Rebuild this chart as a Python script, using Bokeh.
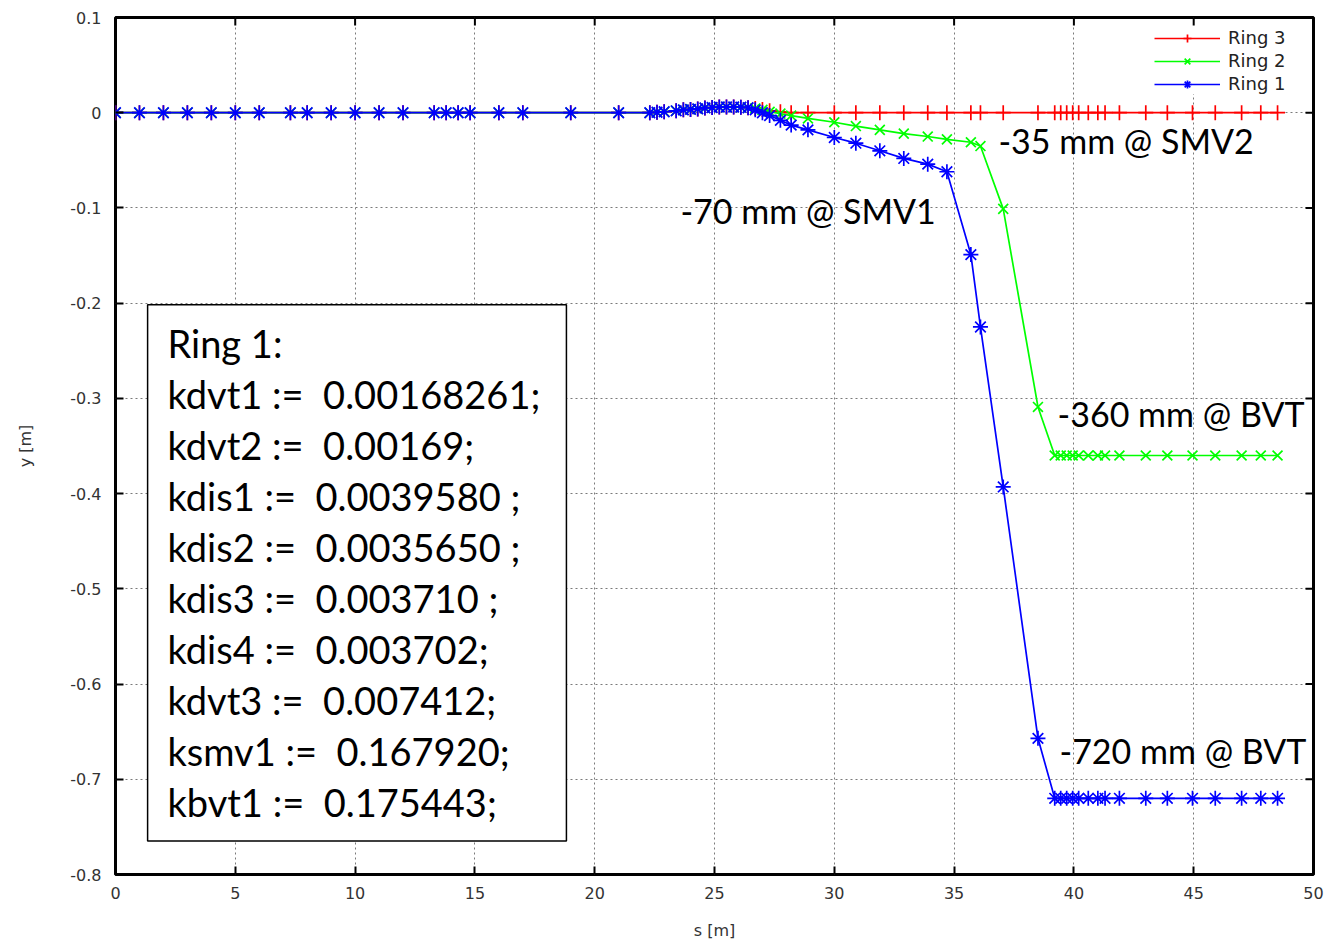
import math
from bokeh.plotting import figure
from bokeh.models import Range1d, FixedTicker, Label, BoxAnnotation, Legend, LegendItem
from bokeh.embed import file_html
from bokeh.resources import INLINE

# ---------------- data ----------------
s = [0, 1, 2, 3, 4, 5, 6, 7.3, 8, 9, 10, 11, 12, 13.3, 13.8, 14.3, 14.8, 16, 17, 19, 21,
     22.3, 22.6, 22.9, 23.4, 23.7, 24.0, 24.3, 24.6, 24.9, 25.2, 25.5, 25.8, 26.1, 26.4, 26.7,
     27.0, 27.3, 27.75, 28.2, 28.9, 30.0, 30.9, 31.9, 32.9, 33.9, 34.7, 35.7, 36.1, 37.05, 38.5,
     39.2, 39.45, 39.7, 39.95, 40.2, 40.6, 41.0, 41.3, 41.9, 43.0, 43.9, 44.95, 45.9, 47.0, 47.8, 48.5]

flat = [0.0] * 21
bump = [0.0, 0.0005, 0.001, 0.002, 0.003, 0.0035, 0.004, 0.005, 0.0055, 0.006, 0.006, 0.006,
        0.0058, 0.0052, 0.0045]

ring3 = flat + bump + [0.0035, 0.002, 0.001, 0.0, 0.0, 0.0, 0.0, 0.0, 0.0, 0.0, 0.0, 0.0,
                       0.0, 0.0, 0.0, 0.0, 0.0, 0.0, 0.0, 0.0, 0.0, 0.0, 0.0, 0.0, 0.0,
                       0.0, 0.0, 0.0, 0.0, 0.0, 0.0]
ring2 = flat + bump + [0.003, 0.001, -0.001, -0.003, -0.006, -0.010, -0.014, -0.018, -0.022,
                       -0.025, -0.028, -0.031, -0.035, -0.101, -0.309, -0.36, -0.36, -0.36,
                       -0.36, -0.36, -0.36, -0.36, -0.36, -0.36, -0.36, -0.36, -0.36, -0.36,
                       -0.36, -0.36, -0.36]
ring1 = flat + bump[:-1] + [0.003, 0.0, -0.003, -0.008, -0.013, -0.018, -0.026, -0.032, -0.040,
                            -0.048, -0.054, -0.062, -0.149, -0.225, -0.393, -0.657, -0.72,
                            -0.72, -0.72, -0.72, -0.72, -0.72, -0.72, -0.72, -0.72, -0.72,
                            -0.72, -0.72, -0.72, -0.72, -0.72, -0.72]

x_ticks = [0, 5, 10, 15, 20, 25, 30, 35, 40, 45, 50]
y_ticks = [0.1, 0.0, -0.1, -0.2, -0.3, -0.4, -0.5, -0.6, -0.7, -0.8]
y_tick_labels = ["0.1", "0", "-0.1", "-0.2", "-0.3", "-0.4", "-0.5", "-0.6", "-0.7", "-0.8"]

NB = "\u00a0"
box_lines = ["Ring 1:",
             "kdvt1 :=" + NB + " 0.00168261;",
             "kdvt2 :=" + NB + " 0.00169;",
             "kdis1 :=" + NB + " 0.0039580 ;",
             "kdis2 :=" + NB + " 0.0035650 ;",
             "kdis3 :=" + NB + " 0.003710 ;",
             "kdis4 :=" + NB + " 0.003702;",
             "kdvt3 :=" + NB + " 0.007412;",
             "ksmv1 :=" + NB + " 0.167920;",
             "kbvt1 :=" + NB + " 0.175443;"]

notes = ["-35 mm @ SMV2", "-70 mm @ SMV1", "-360 mm @ BVT", "-720 mm @ BVT"]
note_x = [36.85, 23.58, 39.32, 39.40]
note_y = [-0.0294, -0.1029, -0.316, -0.670]

# ---------------- figure ----------------
p = figure(width=1333, height=944, x_range=Range1d(0, 50), y_range=Range1d(-0.8, 0.1),
           output_backend="svg", toolbar_location=None,
           min_border_left=115, min_border_right=20, min_border_top=17, min_border_bottom=70)

p.outline_line_color = "black"
p.outline_line_width = 3
p.background_fill_color = "white"

tick_font = "DejaVu Sans"

for ax in (p.xaxis[0], p.yaxis[0]):
    ax.major_tick_in = 8
    ax.major_tick_out = 0
    ax.major_tick_line_color = "black"
    ax.major_tick_line_width = 2
    ax.minor_tick_line_color = None
    ax.axis_line_color = None
    ax.major_label_text_font = tick_font
    ax.major_label_text_font_size = "16px"
    ax.major_label_text_color = "#333333"
    ax.axis_label_text_font = tick_font
    ax.axis_label_text_font_size = "16px"
    ax.axis_label_text_font_style = "normal"
    ax.axis_label_text_color = "#333333"

xa = p.xaxis[0]
xa.ticker = FixedTicker(ticks=x_ticks)
xa.major_label_standoff = 12
xa.axis_label = "s [m]"
xa.axis_label_standoff = 19

ya = p.yaxis[0]
ya.ticker = FixedTicker(ticks=y_ticks)
ya.major_label_overrides = {t: l for t, l in zip(y_ticks, y_tick_labels)}
ya.major_label_standoff = 14
ya.axis_label = "y [m]"
ya.axis_label_standoff = 32

# mirrored inward ticks on top and right edges (clipped half-dashes)
n_x = len(x_ticks)
n_y = len(y_ticks)
p.scatter(x_ticks, [p.y_range.end] * n_x, marker="dash", size=16, angle=math.pi / 2,
          line_color="black", line_width=2)
p.scatter([p.x_range.end] * n_y, y_ticks, marker="dash", size=16,
          line_color="black", line_width=2)

p.xgrid.ticker = FixedTicker(ticks=x_ticks)
p.ygrid.ticker = FixedTicker(ticks=y_ticks)
p.grid.grid_line_color = "#7a7a7a"
p.grid.grid_line_dash = "2 3"
p.grid.grid_line_width = 1

# ---------------- series ----------------
r3l = p.line(s, ring3, line_color="#ff0000", line_width=1.7)
r3m = p.scatter(s, ring3, marker="cross", size=15, line_color="#ff0000", line_width=1.7)
r2l = p.line(s, ring2, line_color="#00ff00", line_width=1.7)
r2m = p.scatter(s, ring2, marker="x", size=14, line_color="#00ff00", line_width=1.7)
r1l = p.line(s, ring1, line_color="#0000ff", line_width=1.7)
r1m = p.scatter(s, ring1, marker="asterisk", size=15, line_color="#0000ff", line_width=1.7)

legend = Legend(items=[LegendItem(label="Ring 3", renderers=[r3l, r3m]),
                       LegendItem(label="Ring 2", renderers=[r2l, r2m]),
                       LegendItem(label="Ring 1", renderers=[r1l, r1m])],
                location="top_right")
legend.border_line_color = None
legend.background_fill_color = "white"
legend.background_fill_alpha = 1
legend.label_text_font = tick_font
legend.label_text_font_size = "18px"
legend.label_text_color = "#222222"
legend.glyph_width = 66
legend.glyph_height = 20
legend.label_height = 20
legend.label_width = 75
legend.spacing = 2
legend.padding = 4
legend.margin = 10
legend.label_standoff = 8
p.add_layout(legend)

# ---------------- text box ----------------
box = BoxAnnotation(left=1.34, right=18.82, top=-0.2017, bottom=-0.7647,
                    fill_color="white", fill_alpha=1, line_color="black", line_alpha=1,
                    line_width=1.5)
p.add_layout(box)

box_font = "Lato"
line_step = 51.0 / 952.2
for i, txt in enumerate(box_lines):
    p.add_layout(Label(x=2.17, y=-0.2416 - i * line_step, text=txt, text_font=box_font,
                       text_font_size="38px", text_baseline="middle", text_color="black"))

for txt, nx, ny in zip(notes, note_x, note_y):
    p.add_layout(Label(x=nx, y=ny, text=txt, text_font=box_font, text_font_size="34px",
                       text_baseline="middle", text_color="black"))

open("out.html", "w").write(file_html(p, INLINE))
